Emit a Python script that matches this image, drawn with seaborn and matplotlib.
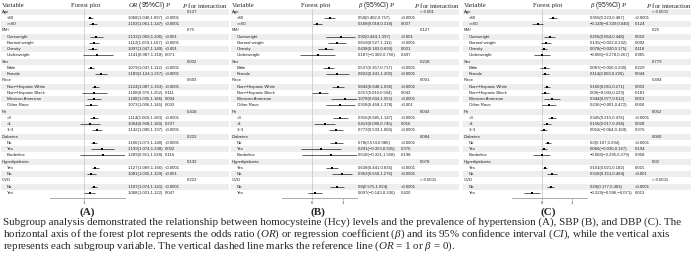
import matplotlib
matplotlib.use("Agg")
import matplotlib.pyplot as plt
import seaborn as sns
import numpy as np

# ---------------- data ----------------
groups = ["Age", "BMI", "Sex", "Race", "Pir", "Diabetes", "Hyperlipidemia", "CVD"]
subgroups = [["<60", ">=60"],
             ["Overweight", "Normal weight", "Obesity", "Underweight"],
             ["Male", "Female"],
             ["Non\u2212Hispanic White", "Non\u2212Hispanic Black", "Mexican American", "Other Race"],
             [">3", "<1", "1~3"],
             ["No", "Yes", "Borderline"],
             ["Yes", "No"],
             ["No", "Yes"]]

A_est = [1.068, 1.103, 1.133, 1.112, 1.097, 1.141, 1.079, 1.189, 1.124, 1.108, 1.108, 1.073,
         1.114, 1.064, 1.142, 1.106, 1.199, 1.209, 1.127, 1.081, 1.107, 1.068]
A_lo = [1.040, 1.061, 1.069, 1.059, 1.047, 0.987, 1.047, 1.124, 1.087, 0.976, 1.035, 1.006,
        1.069, 0.958, 1.090, 1.073, 1.074, 0.951, 1.089, 1.035, 1.074, 1.001]
A_hi = [1.097, 1.147, 1.206, 1.167, 1.149, 1.318, 1.112, 1.257, 1.163, 1.252, 1.186, 1.145,
        1.160, 1.180, 1.197, 1.140, 1.338, 1.538, 1.166, 1.129, 1.141, 1.122]
A_p = ["<0.0001", "<0.0001", "<0.001", "<0.0001", "<0.001", "0.071", "<0.0001", "<0.0001",
       "<0.0001", "0.111", "0.004", "0.032", "<0.0001", "0.237", "<0.0001", "<0.0001", "0.002",
       "0.116", "<0.0001", "<0.001", "<0.0001", "0.047"]
A_pint = ["0.127", "0.75", "0.002", "0.603", "0.418", "0.222", "0.132", "0.222"]

B_est = [0.58, 0.168, 0.92, 0.819, 0.438, 0.187, 0.537, 0.822, 0.842, 0.257, 1.078, 0.918,
         0.916, 0.413, 0.773, 0.78, 0.291, 0.618, 0.638, 0.963, 0.8, 0.097]
B_lo = [0.402, 0.018, 0.444, 0.527, 0.183, -0.382, 0.357, 0.441, 0.648, 0.010, 0.604, 0.458,
        0.685, 0.080, 0.539, 0.574, -0.353, -0.321, 0.441, 0.650, 0.575, -0.143]
B_hi = [0.757, 0.318, 1.397, 1.111, 0.693, 0.756, 0.717, 1.202, 1.036, 0.504, 1.553, 1.378,
        1.147, 0.745, 1.008, 0.986, 0.935, 1.558, 0.835, 1.276, 1.024, 0.336]
B_p = ["<0.0001", "0.037", "<0.001", "<0.0001", "0.001", "0.497", "<0.0001", "<0.0001",
       "<0.0001", "0.042", "<0.0001", "<0.001", "<0.0001", "0.016", "<0.0001", "<0.0001", "0.376",
       "0.198", "<0.0001", "<0.0001", "<0.0001", "0.420"]
B_pint = ["< 0.001", "0.127", "0.218", "0.001", "0.043", "0.084", "0.078", "< 0.0001"]

C_est = [0.355, -0.149, 0.256, 0.135, 0.078, -0.006, 0.087, 0.114, 0.166, 0.09, 0.344, 0.236,
         0.345, 0.156, 0.052, 0.2, 0.066, -0.008, 0.101, 0.318, 0.29, -0.329]
C_lo = [0.223, -0.339, 0.064, -0.022, -0.020, -0.278, -0.056, 0.003, 0.061, -0.043, 0.077, -0.001,
        0.215, 0.017, -0.064, 0.107, -0.036, -0.295, 0.021, 0.151, 0.177, -0.586]
C_hi = [0.487, 0.040, 0.448, 0.292, 0.175, 0.267, 0.230, 0.226, 0.271, 0.223, 0.612, 0.472,
        0.476, 0.294, 0.169, 0.294, 0.167, 0.279, 0.182, 0.484, 0.403, -0.071]
C_p = ["<0.0001", "0.124", "0.010", "0.092", "0.118", "0.965", "0.229", "0.044", "0.003",
       "0.181", "0.013", "0.050", "<0.0001", "0.028", "0.376", "<0.0001", "0.194", "0.958",
       "0.015", "<0.001", "<0.0001", "0.013"]
C_pint = ["< 0.0001", "0.25", "0.779", "0.494", "0.052", "0.060", "0.02", "< 0.0001"]

panel_labels = ["(A)", "(B)", "(C)"]
est_headers = ["$OR$ (95%CI) $P$", "$\\beta$ (95%CI) $P$", "$\\beta$ (95%CI) $P$"]
ref_values = [1, 0, 0]
tick_values = [[1], [0, 1], [0, 1]]

caption_lines = [
    "Subgroup analysis demonstrated the relationship between homocysteine (Hcy) levels and the prevalence of hypertension (A), SBP (B), and DBP (C). The",
    "horizontal axis of the forest plot represents the odds ratio ($OR$) or regression coefficient ($\\beta$) and its 95% confidence interval ($CI$), while the vertical axis",
    "represents each subgroup variable. The vertical dashed line marks the reference line ($OR$ = 1 or $\\beta$ = 0).",
]

# ---------------- style ----------------
sns.set_style("white")
plt.rcParams["font.family"] = ["Liberation Sans", "DejaVu Sans"]
plt.rcParams["mathtext.fontset"] = "custom"
plt.rcParams["mathtext.rm"] = "Liberation Serif"
plt.rcParams["mathtext.it"] = "Liberation Serif:italic"
plt.rcParams["mathtext.bf"] = "Liberation Serif:bold"
SERIF = ["Liberation Serif", "DejaVu Serif"]

W, H, DPI = 692, 264, 100
fig = plt.figure(figsize=(W / DPI, H / DPI), dpi=DPI)
fig.patch.set_facecolor("white")

ROW0, ROWH = 11.7, 6.25
AX_BOTTOM = 198.0


def row_of(ypx):
    return (ypx - ROW0) / ROWH


def px_axes(x0, y0, x1, y1):
    return fig.add_axes([x0 / W, 1 - y1 / H, (x1 - x0) / W, (y1 - y0) / H])


def fmt(v, strip=False):
    s = f"{abs(v):.3f}"
    if strip:
        s = s.rstrip("0").rstrip(".")
    return ("\u2212" if v < 0 else "") + s


panels = [
    dict(off=0, fx=(50, 125), xlim=(0.622, 1.456), est=A_est, lo=A_lo, hi=A_hi, p=A_p,
         pint=A_pint, pcol=158, pint_head=182, pint_col=187),
    dict(off=230, fx=(52, 127), xlim=(-0.968, 1.452), est=B_est, lo=B_lo, hi=B_hi, p=B_p,
         pint=B_pint, pcol=171, pint_head=184, pint_col=190),
    dict(off=462, fx=(50, 125), xlim=(-1.0, 1.5), est=C_est, lo=C_lo, hi=C_hi, p=C_p,
         pint=C_pint, pcol=173, pint_head=184, pint_col=190),
]

BODY = 3.1
HEAD = 4.9
pairs = []

for k, P in enumerate(panels):
    off = P["off"]
    bg = px_axes(off, 0, off + 230, AX_BOTTOM)
    bg.set_xlim(0, 230)
    bg.set_ylim(row_of(AX_BOTTOM), row_of(0))
    bg.axis("off")

    # layout of rows
    sub_rows, sub_labels, grp_rows = [], [], []
    r = 0
    for g, subs in zip(groups, subgroups):
        grp_rows.append(r)
        r += 1
        for s in subs:
            sub_rows.append(r)
            sub_labels.append(s)
            r += 1
    nrows = r
    for i in range(0, nrows, 2):
        bg.axhspan(i - 0.5, i + 0.5, xmin=1 / 230, xmax=229 / 230, color="#eeeeee", lw=0, zorder=0)

    # headers
    bg.text(2, -1, "Variable", family=SERIF, fontsize=HEAD, va="center", ha="left")
    bg.text(86, -1, "Forest plot", family=SERIF, fontsize=HEAD, va="center", ha="center")
    bg.text(128, -1, est_headers[k], fontsize=HEAD, va="center", ha="left")
    bg.text(P["pint_head"], -1, "$P$ for interaction", family=SERIF, fontsize=HEAD,
            va="center", ha="left")

    for g, gr, pi in zip(groups, grp_rows, P["pint"]):
        bg.text(2, gr, g, fontsize=BODY, va="center", ha="left", color="#222222")
        bg.text(P["pint_col"], gr, pi, fontsize=BODY, va="center", ha="left", color="#222222")

    for s, sr, e, lo, hi, pv in zip(sub_labels, sub_rows, P["est"], P["lo"], P["hi"], P["p"]):
        bg.text(7, sr, s, fontsize=BODY, va="center", ha="left", color="#222222")
        t1 = bg.text(128, sr, f"{fmt(e, True)}({fmt(lo)},{fmt(hi)})", fontsize=BODY,
                     va="center", ha="left", color="#222222")
        t2 = bg.text(P["pcol"], sr, pv, fontsize=BODY, va="center", ha="left", color="#222222")
        pairs.append((bg, t1, t2, P["pcol"], sr))

    # forest axes
    fa = px_axes(off + P["fx"][0], 8.5, off + P["fx"][1], AX_BOTTOM)
    fa.set_facecolor("none")
    fa.axvline(ref_values[k], color="#c4c4c4", lw=0.5, zorder=1)
    fa.hlines(sub_rows, P["lo"], P["hi"], color="#222222", lw=0.5, zorder=2)
    sns.scatterplot(x=P["est"], y=sub_rows, ax=fa, marker="s", s=3.5, color="black",
                    linewidth=0, zorder=3, legend=False)
    fa.set_xlim(*P["xlim"])
    fa.set_ylim(row_of(AX_BOTTOM), row_of(8.5))
    fa.set_xlabel("")
    fa.set_ylabel("")
    fa.set_yticks([])
    fa.set_xticks(tick_values[k])
    fa.set_xticklabels([str(t) for t in tick_values[k]])
    for side in ["top", "right", "left"]:
        fa.spines[side].set_visible(False)
    fa.spines["bottom"].set_color("#888888")
    fa.spines["bottom"].set_linewidth(0.5)
    fa.tick_params(axis="x", length=1.3, width=0.4, pad=0.6, labelsize=BODY,
                   colors="#888888", labelcolor="#333333", bottom=True)

    fig.text((P["off"] + [87, 88, 86][k]) / W, 1 - 212 / H, panel_labels[k], family=SERIF,
             fontsize=8, fontweight="bold", ha="center", va="center")

# caption
cap_texts = []
for i, line in enumerate(caption_lines):
    t = fig.text(3 / W, 1 - (222 + 12 * i) / H, line, family=SERIF, fontsize=7.8,
                 ha="left", va="center")
    cap_texts.append(t)

fig.canvas.draw()
renderer = fig.canvas.get_renderer()
w0 = cap_texts[0].get_window_extent(renderer).width
scale = 685.0 / w0
for t in cap_texts:
    t.set_fontsize(7.8 * scale)

# push P values right if estimate text overlaps
for bg, t1, t2, pcol, sr in pairs:
    x1 = t1.get_window_extent(renderer).x1
    xd = bg.transData.inverted().transform((x1, 0))[0]
    if xd + 1.3 > pcol:
        t2.set_position((xd + 1.3, sr))

fig.savefig("out.png", dpi=DPI, facecolor="white")
